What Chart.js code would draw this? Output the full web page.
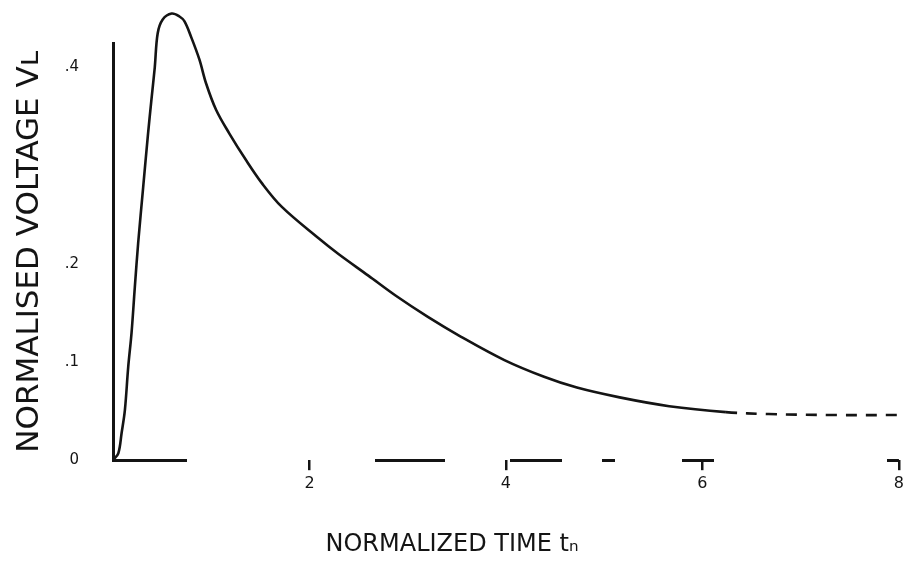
<!DOCTYPE html>
<html lang="en">
<head>
    <meta charset="UTF-8">
    <title>Normalised voltage vs normalized time</title>
    <script src="https://cdn.jsdelivr.net/npm/chart.js@4.4.1/dist/chart.umd.min.js"></script>
    <style>
        html, body {
            margin: 0;
            padding: 0;
            background: #fff;
        }
        .chart-box {
            position: relative;
            width: 908px;
            height: 566px;
        }
    </style>
</head>
<body>
    <div class="chart-box">
        <canvas id="pulseChart"></canvas>
    </div>

    <script>
        // curve (normalized time, normalised voltage)
        const timeValues = [
            0, 0.054, 0.088, 0.121, 0.155, 0.189, 0.222, 0.256, 0.307, 0.357,
            0.391, 0.425, 0.455, 0.506, 0.597, 0.677, 0.728, 0.796, 0.880,
            0.947, 1.049, 1.183, 1.352, 1.517, 1.719, 2.093, 2.295, 2.599, 2.872,
            3.205, 3.539, 3.984, 4.388, 4.722, 5.157, 5.662, 6.239, 6.673, 7.351, 8.0
        ];
        const voltageValues = [
            0, 0.007, 0.028, 0.051, 0.095, 0.130, 0.176, 0.221, 0.278, 0.333,
            0.367, 0.400, 0.435, 0.449, 0.455, 0.452, 0.447, 0.431, 0.408,
            0.384, 0.357, 0.333, 0.306, 0.282, 0.258, 0.226, 0.210, 0.188, 0.168,
            0.146, 0.126, 0.102, 0.085, 0.074, 0.064, 0.055, 0.049, 0.047, 0.046, 0.046
        ];

        // tick positions
        const xTicks = [0, 2, 4, 6, 8];
        const xTickLabels = ['', '2', '4', '6', '8'];
        const yTicks = [0, 0.1, 0.2, 0.4];
        const yTickLabels = ['0', '.1', '.2', '.4'];

        const ink = '#141414';

        const points = timeValues.map((t, i) => ({ x: t, y: voltageValues[i] }));

        new Chart(document.getElementById('pulseChart'), {
            type: 'line',
            data: {
                datasets: [{
                    data: points,
                    borderColor: ink,
                    borderWidth: 2.6,
                    pointRadius: 0,
                    tension: 0.35,
                    clip: false,
                    // the scanned tail is broken into short dashes
                    segment: {
                        borderDash: ctx => ctx.p0.parsed.x >= 6.2 ? [11, 9] : undefined
                    }
                }]
            },
            options: {
                responsive: true,
                maintainAspectRatio: false,
                animation: false,
                layout: {
                    padding: { top: 43, right: 4, left: 0, bottom: 0 }
                },
                plugins: {
                    legend: { display: false },
                    tooltip: { enabled: false },
                    title: {
                        display: true,
                        text: 'NORMALIZED TIME t\u2099',
                        position: 'bottom',
                        color: ink,
                        font: { family: 'DejaVu Sans', size: 24, weight: 'normal' },
                        padding: { top: 6, bottom: 7 }
                    }
                },
                scales: {
                    x: {
                        type: 'linear',
                        min: 0,
                        max: 8,
                        afterBuildTicks: s => { s.ticks = xTicks.map(v => ({ value: v })); },
                        afterFit: s => { s.height = 64; },
                        ticks: {
                            color: ink,
                            padding: 4,
                            font: { family: 'DejaVu Sans', size: 16 },
                            callback: (v, i) => xTickLabels[i]
                        },
                        grid: {
                            drawOnChartArea: false,
                            tickLength: 10,
                            lineWidth: 2.5,
                            color: ctx => (ctx.tick && ctx.tick.value === 0) ? 'rgba(0,0,0,0)' : ink
                        },
                        border: { display: false }
                    },
                    y: {
                        type: 'linear',
                        min: 0,
                        max: 0.425,
                        afterBuildTicks: s => { s.ticks = yTicks.map(v => ({ value: v })); },
                        afterFit: s => { s.width = 113; },
                        ticks: {
                            color: ink,
                            padding: 34,
                            font: { family: 'DejaVu Sans', size: 15 },
                            callback: (v, i) => yTickLabels[i]
                        },
                        // only the zero line is drawn: the broken baseline of the scan
                        grid: {
                            drawTicks: false,
                            lineWidth: 3,
                            color: ctx => (ctx.tick && ctx.tick.value === 0) ? ink : 'rgba(0,0,0,0)'
                        },
                        border: {
                            color: ink,
                            width: 3,
                            dash: [72, 188, 70, 65, 52, 40, 13, 67, 32, 173, 19]
                        },
                        title: {
                            display: true,
                            text: 'NORMALISED VOLTAGE V\u029F',
                            color: ink,
                            font: { family: 'DejaVu Sans', size: 31, weight: 'normal' },
                            padding: { top: 11, bottom: 0 }
                        }
                    }
                }
            }
        });
    </script>
</body>
</html>
